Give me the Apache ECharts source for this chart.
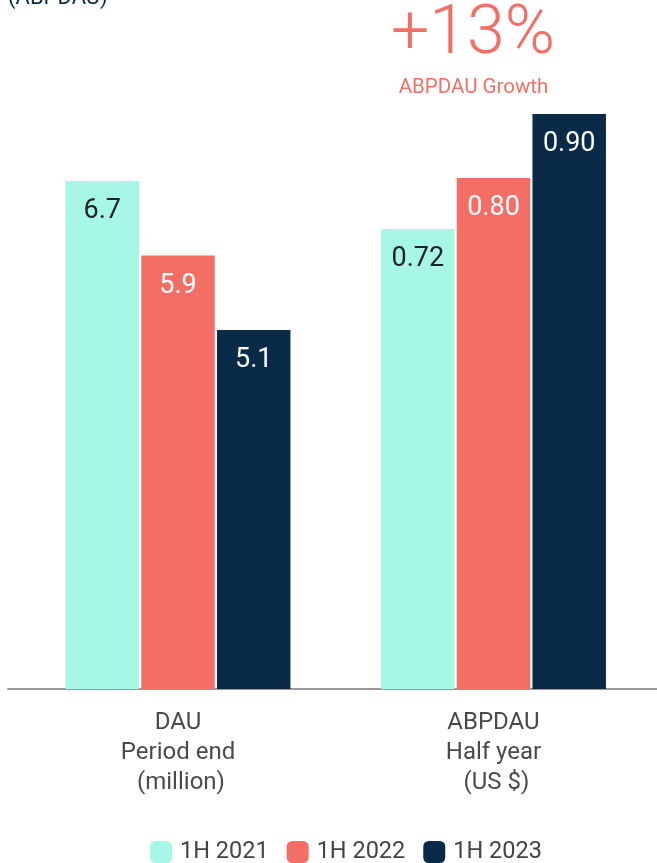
<!DOCTYPE html>
<html>
<head>
<meta charset="utf-8">
<script src="https://cdn.jsdelivr.net/npm/echarts@6/dist/echarts.min.js"></script>
<style>
html,body{margin:0;padding:0;background:#fff;}
#chart{width:657px;height:863px;}
</style>
</head>
<body>
<div id="chart"></div>
<script>
const categoriesLeft = ['DAU\nPeriod end\n (million)'];
const categoriesRight = ['ABPDAU\nHalf year\n (US $)'];
const years = ['1H 2021', '1H 2022', '1H 2023'];
const dauValues = [6.7, 5.9, 5.1];
const abpdauValues = [0.72, 0.80, 0.90];
const growthText = '+13%';
const growthLabel = 'ABPDAU Growth';
const topText = '(ABPDAU)';

const colors = ['#a7f7e7', '#f36f65', '#0a2b48'];
const labelColors = ['#222222', '#ffffff', '#ffffff'];
const FONT = 'Roboto';

const chart = echarts.init(document.getElementById('chart'), null, {renderer: 'canvas'});

const series = [];
years.forEach((y, i) => {
  series.push({
    name: y, type: 'bar', xAxisIndex: 0, yAxisIndex: 0,
    barWidth: 73.5, barGap: '3%',
    itemStyle: {color: colors[i]},
    label: {show: true, position: 'insideTop', distance: 17, fontFamily: FONT, fontSize: 27,
      color: labelColors[i], formatter: p => p.value.toFixed(1)},
    data: [dauValues[i]],
    emphasis: {disabled: true}
  });
  series.push({
    name: y, type: 'bar', xAxisIndex: 1, yAxisIndex: 1,
    barWidth: 73.5, barGap: '3%',
    itemStyle: {color: colors[i]},
    label: {show: true, position: 'insideTop', distance: 17, fontFamily: FONT, fontSize: 27,
      color: labelColors[i], formatter: p => p.value.toFixed(2)},
    data: [abpdauValues[i]],
    emphasis: {disabled: true}
  });
});

const xAxisCommon = {
  type: 'category',
  axisLine: {lineStyle: {color: '#999999', width: 2}},
  axisTick: {show: false},
  axisLabel: {fontFamily: FONT, fontSize: 24, fontWeight: 400, lineHeight: 30, color: '#4a4a4a', margin: 19}
};

chart.setOption({
  animation: false,
  backgroundColor: '#ffffff',
  grid: [
    {left: 8, top: 114, width: 340, bottom: 174},
    {left: 330, top: 114, right: 0, bottom: 174}
  ],
  xAxis: [
    Object.assign({gridIndex: 0, data: categoriesLeft}, xAxisCommon),
    Object.assign({gridIndex: 1, data: categoriesRight}, xAxisCommon)
  ],
  yAxis: [
    {type: 'value', gridIndex: 0, min: 1.243, max: 7.419, show: false},
    {type: 'value', gridIndex: 1, min: 0, max: 0.9, show: false}
  ],
  legend: {
    data: years,
    top: 835, left: 145,
    itemWidth: 22, itemHeight: 22, itemGap: 18,
    icon: 'roundRect',
    itemStyle: {borderRadius: 2},
    textStyle: {fontFamily: FONT, fontSize: 23.5, color: '#444444', padding: [0, 0, 0, 3]},
    selectedMode: false
  },
  graphic: [
    {type: 'text', x: 473, y: 36, style: {text: growthText, fill: '#f36f65', font: '300 68px Roboto', align: 'center', verticalAlign: 'middle'}},
    {type: 'text', x: 473.5, y: 87.5, style: {text: growthLabel, fill: '#f36f65', font: '400 20.5px Roboto', align: 'center', verticalAlign: 'middle'}},
    {type: 'text', x: 8, y: -2, style: {text: topText, fill: '#0a2b48', font: '400 22px Roboto', align: 'left', verticalAlign: 'middle'}}
  ],
  series: series
});
</script>
</body>
</html>
